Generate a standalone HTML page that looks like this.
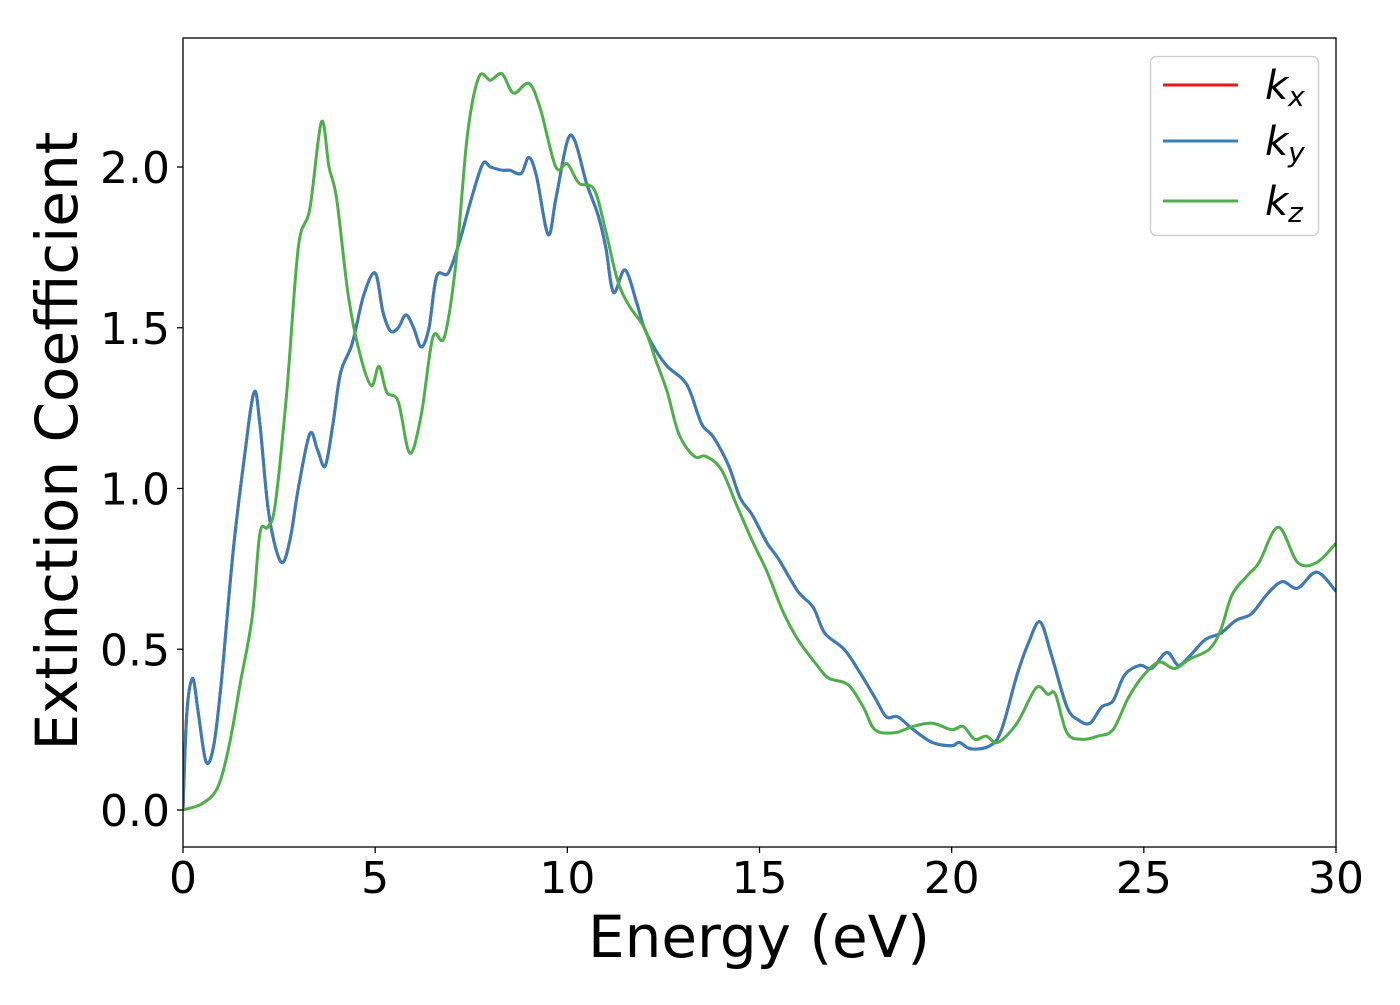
<!DOCTYPE html>
<html><head><meta charset="utf-8"><style>
body{margin:0;background:#fff;}
svg text{font-family:"DejaVu Sans","Liberation Sans",sans-serif;fill:#000;}
</style></head><body>
<svg id="chart" width="1400" height="1000" viewBox="0 0 1400 1000" xmlns="http://www.w3.org/2000/svg">
<rect width="1400" height="1000" fill="#fff"/>
<g id="series"></g>
<rect x="183" y="38" width="1153" height="809" fill="none" stroke="#000" stroke-width="1.3"/>
<g id="axes"></g>
<text x="759" y="957" font-size="58" text-anchor="middle">Energy (eV)</text>
<text transform="translate(77,441) rotate(-90)" font-size="58" text-anchor="middle">Extinction Coefficient</text>
<g>
<rect x="1150.5" y="56.5" width="168" height="179" rx="6" fill="#fff" fill-opacity="0.8" stroke="#ccc" stroke-width="1.3"/>
<line x1="1163" y1="85" x2="1238" y2="85" stroke="#e41a1c" stroke-width="3"/>
<text x="1265" y="99" font-size="40" font-style="italic">k<tspan font-size="28" dy="7">x</tspan></text>
<line x1="1163" y1="141" x2="1238" y2="141" stroke="#377eb8" stroke-width="3"/>
<text x="1265" y="155" font-size="40" font-style="italic">k<tspan font-size="28" dy="7">y</tspan></text>
<line x1="1163" y1="201" x2="1238" y2="201" stroke="#4daf4a" stroke-width="3"/>
<text x="1265" y="215" font-size="40" font-style="italic">k<tspan font-size="28" dy="7">z</tspan></text>
</g>
</svg>
<script>
const xyE=[0,0.1,0.25,0.4,0.6,0.8,1.0,1.3,1.6,1.85,2.0,2.2,2.4,2.6,2.8,3.0,3.3,3.5,3.7,3.9,4.1,4.4,4.7,5.0,5.2,5.4,5.6,5.8,6.0,6.2,6.4,6.6,6.9,7.2,7.5,7.8,8.0,8.3,8.5,8.8,9.0,9.2,9.5,9.7,10.0,10.2,10.5,10.8,11.0,11.2,11.5,11.8,12.0,12.3,12.6,13.0,13.2,13.5,13.8,14.2,14.5,14.8,15.2,15.5,16.0,16.4,16.7,17.2,17.6,18.0,18.3,18.6,19.0,19.5,20.0,20.2,20.5,21.0,21.3,21.7,22.0,22.3,22.6,23.0,23.3,23.6,23.9,24.2,24.5,24.9,25.2,25.6,25.9,26.2,26.6,27.0,27.4,27.8,28.2,28.6,29.0,29.5,30.0];
const xyK=[0,0.3,0.41,0.3,0.15,0.2,0.4,0.8,1.1,1.3,1.2,0.95,0.82,0.77,0.85,1.0,1.17,1.12,1.07,1.2,1.36,1.45,1.6,1.67,1.55,1.49,1.5,1.54,1.5,1.44,1.5,1.66,1.67,1.77,1.9,2.01,2.0,1.99,1.99,1.98,2.03,1.97,1.79,1.9,2.08,2.08,1.95,1.85,1.75,1.61,1.68,1.58,1.5,1.43,1.38,1.34,1.3,1.2,1.16,1.07,0.97,0.92,0.83,0.78,0.68,0.63,0.55,0.5,0.43,0.35,0.29,0.29,0.25,0.21,0.2,0.21,0.19,0.2,0.25,0.42,0.52,0.585,0.48,0.32,0.28,0.27,0.32,0.34,0.42,0.45,0.44,0.49,0.45,0.48,0.53,0.55,0.59,0.61,0.67,0.71,0.69,0.74,0.68];
const zE=[0,0.5,0.9,1.2,1.5,1.8,2.0,2.2,2.4,2.7,3.0,3.3,3.6,3.8,4.0,4.3,4.6,4.9,5.1,5.3,5.6,5.9,6.2,6.5,6.8,7.1,7.4,7.7,8.0,8.3,8.6,9.0,9.3,9.7,10.0,10.3,10.7,11.0,11.3,11.6,12.0,12.3,12.6,12.9,13.3,13.6,14.0,14.4,14.8,15.2,15.6,16.0,16.5,16.8,17.3,17.7,18.0,18.5,19.0,19.5,20.0,20.3,20.6,20.9,21.2,21.7,22.2,22.5,22.7,23.0,23.4,23.8,24.2,24.6,25.0,25.4,25.8,26.2,26.7,27.0,27.3,27.7,28.0,28.5,29.0,29.5,30.0];
const zK=[0,0.02,0.07,0.2,0.4,0.6,0.86,0.88,0.95,1.3,1.75,1.87,2.14,2.0,1.9,1.6,1.42,1.32,1.38,1.3,1.27,1.11,1.23,1.47,1.47,1.7,2.1,2.28,2.27,2.29,2.23,2.26,2.18,2.0,2.01,1.95,1.93,1.8,1.65,1.57,1.5,1.4,1.3,1.17,1.1,1.1,1.06,0.95,0.84,0.74,0.62,0.53,0.45,0.41,0.39,0.32,0.25,0.24,0.26,0.27,0.25,0.26,0.22,0.23,0.21,0.27,0.38,0.36,0.36,0.24,0.22,0.23,0.25,0.35,0.42,0.46,0.44,0.47,0.5,0.56,0.67,0.73,0.77,0.88,0.77,0.77,0.83];
const xTicks=[0,5,10,15,20,25,30];
const yTicks=[0.0,0.5,1.0,1.5,2.0];
const NS='http://www.w3.org/2000/svg';
const X=v=>183+v*(1153/30);
const Y=v=>810-v*321.5;
function pathD(E,K){
  const p=E.map((e,i)=>[X(e),Y(K[i])]);
  let d='M'+p[0][0].toFixed(1)+','+p[0][1].toFixed(1);
  for(let i=0;i<p.length-1;i++){
    const p0=p[Math.max(i-1,0)],p1=p[i],p2=p[i+1],p3=p[Math.min(i+2,p.length-1)];
    const c1=[p1[0]+(p2[0]-p0[0])/6,p1[1]+(p2[1]-p0[1])/6];
    const c2=[p2[0]-(p3[0]-p1[0])/6,p2[1]-(p3[1]-p1[1])/6];
    d+=`C${c1[0].toFixed(1)},${c1[1].toFixed(1)} ${c2[0].toFixed(1)},${c2[1].toFixed(1)} ${p2[0].toFixed(1)},${p2[1].toFixed(1)}`;
  }
  return d;
}
const sg=document.getElementById('series');
const clip=document.createElementNS(NS,'clipPath');clip.setAttribute('id','pc');
const cr=document.createElementNS(NS,'rect');cr.setAttribute('x',183);cr.setAttribute('y',38);cr.setAttribute('width',1153);cr.setAttribute('height',809);
clip.appendChild(cr);document.getElementById('chart').appendChild(clip);
sg.setAttribute('clip-path','url(#pc)');
function addLine(E,K,color,name){
  const pa=document.createElementNS(NS,'path');
  pa.setAttribute('d',pathD(E,K));pa.setAttribute('fill','none');pa.setAttribute('stroke',color);pa.setAttribute('stroke-width','3');pa.setAttribute('stroke-linejoin','round');
  
  
  sg.appendChild(pa);
}
addLine(xyE,xyK,'#e41a1c','series-kx');
addLine(xyE,xyK,'#377eb8','series-ky');
addLine(zE,zK,'#4daf4a','series-kz');
const ax=document.getElementById('axes');
xTicks.forEach(t=>{
  const l=document.createElementNS(NS,'line');
  l.setAttribute('x1',X(t));l.setAttribute('x2',X(t));l.setAttribute('y1',847);l.setAttribute('y2',853);l.setAttribute('stroke','#000');l.setAttribute('stroke-width','1.3');
  
  
  ax.appendChild(l);
  const tx=document.createElementNS(NS,'text');
  tx.setAttribute('x',X(t));tx.setAttribute('y',893);tx.setAttribute('font-size','44');tx.setAttribute('text-anchor','middle');tx.textContent=t;
  
  
  ax.appendChild(tx);
});
yTicks.forEach(t=>{
  const l=document.createElementNS(NS,'line');
  l.setAttribute('x1',177);l.setAttribute('x2',183);l.setAttribute('y1',Y(t));l.setAttribute('y2',Y(t));l.setAttribute('stroke','#000');l.setAttribute('stroke-width','1.3');
  
  
  ax.appendChild(l);
  const tx=document.createElementNS(NS,'text');
  tx.setAttribute('x',170);tx.setAttribute('y',Y(t)+16);tx.setAttribute('font-size','44');tx.setAttribute('text-anchor','end');tx.textContent=t.toFixed(1);
  
  
  ax.appendChild(tx);
});
</script>
</body></html>
